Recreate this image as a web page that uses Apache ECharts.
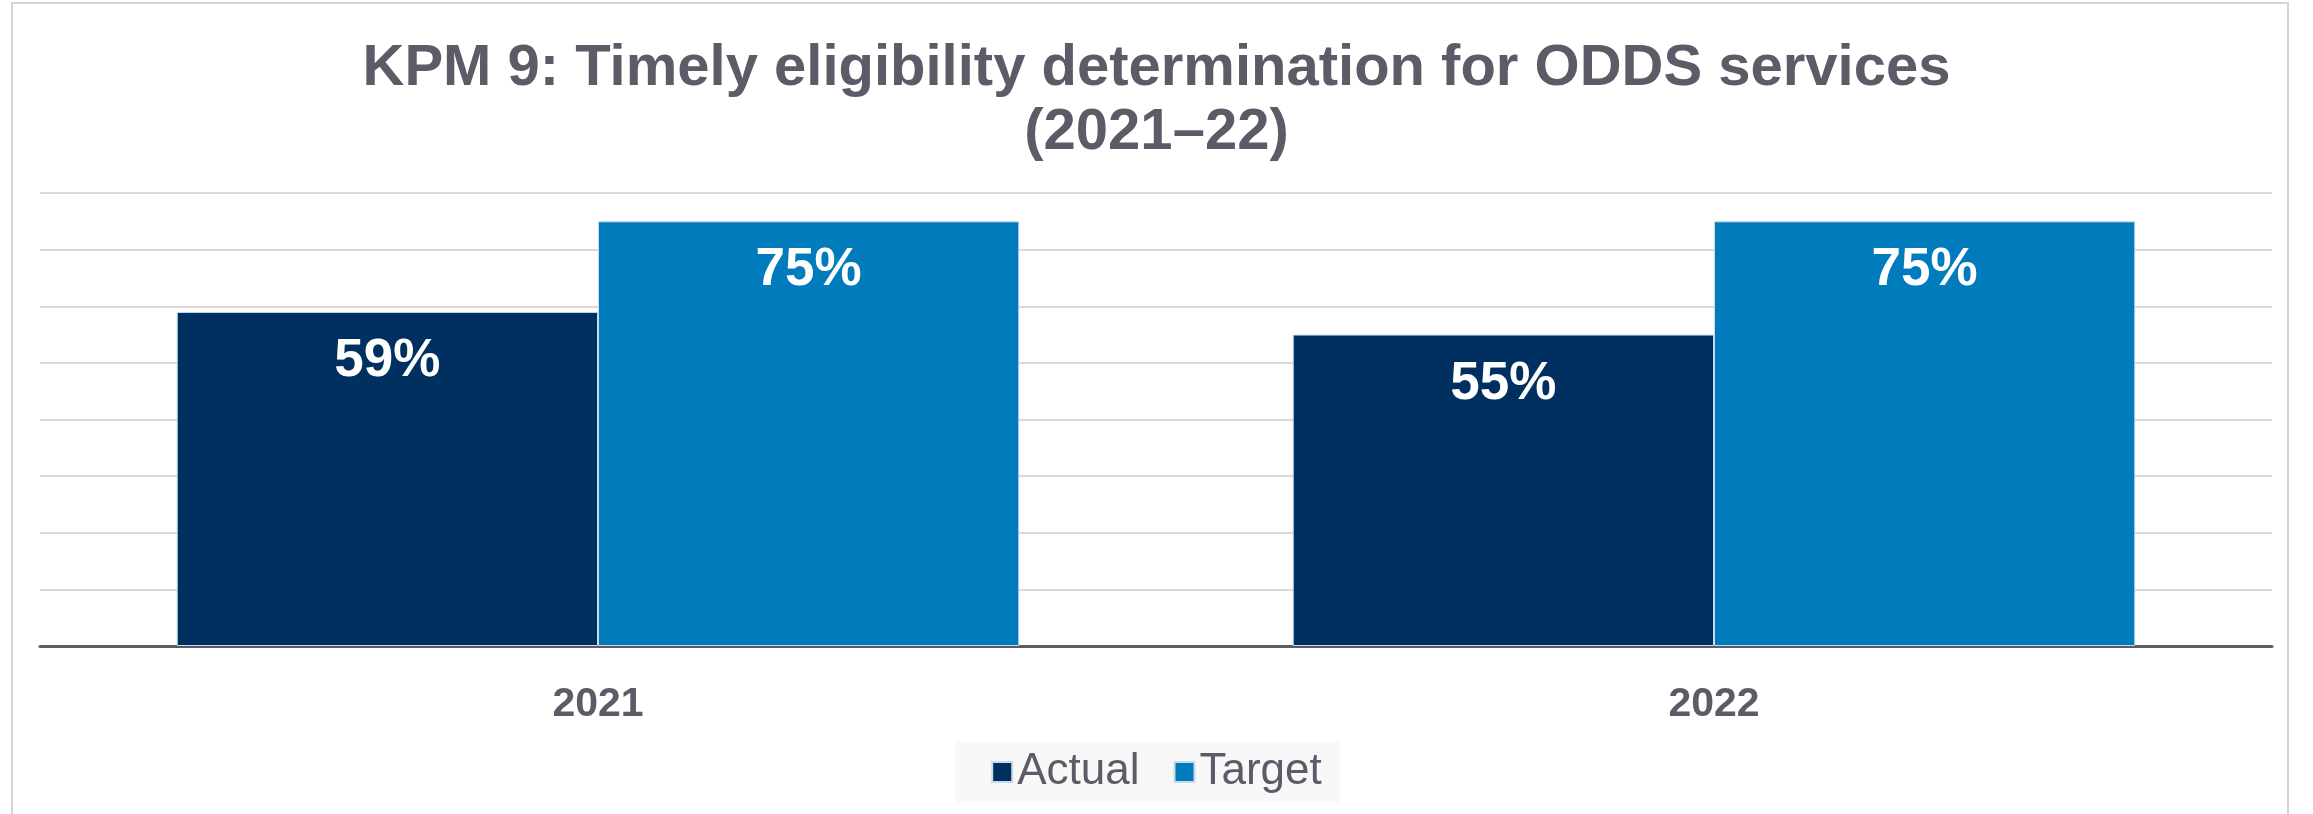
<!DOCTYPE html>
<html>
<head>
<meta charset="utf-8">
<script src="https://cdn.jsdelivr.net/npm/echarts@6/dist/echarts.min.js"></script>
<style>
  html, body { margin: 0; padding: 0; background: #ffffff; }
  #frame {
    position: absolute; left: 11px; top: 2px; width: 2278px; height: 830px;
    border: 2px solid #d4d3d8; box-sizing: border-box;
  }
  #chart { position: absolute; left: 0; top: 0; width: 2313px; height: 814px; }
</style>
</head>
<body>
<div id="frame"></div>
<div id="chart"></div>
<script>
// KPM 9 figures by year
const years = ['2021', '2022'];
const actual = [59, 55];
const target = [75, 75];
const seriesNames = ['Actual', 'Target'];
const yMax = 80;
const yStep = 10;

const textColor = '#5f5a67';
const fontFamily = '"Liberation Sans", Arial, Helvetica, sans-serif';

const chart = echarts.init(document.getElementById('chart'), null, { renderer: 'canvas' });

const valueLabel = {
  show: true,
  position: 'insideTop',
  distance: 23,
  formatter: p => p.value + '%',
  color: '#ffffff',
  fontFamily: fontFamily,
  fontWeight: 'bold',
  fontSize: 53
};

chart.setOption({
  backgroundColor: 'transparent',
  animation: false,
  title: {
    text: 'KPM 9: Timely eligibility determination for ODDS services\n(2021\u201322)',
    left: 'center',
    top: 32,
    textStyle: {
      color: textColor,
      fontFamily: fontFamily,
      fontWeight: 'bold',
      fontSize: 58,
      lineHeight: 64
    }
  },
  legend: {
    data: seriesNames,
    top: 742,
    left: 'center',
    backgroundColor: '#f8f8f9',
    padding: [8, 18, 8, 36],
    itemWidth: 20,
    itemHeight: 20,
    itemGap: 34,
    icon: 'rect',
    textStyle: {
      color: textColor,
      fontFamily: fontFamily,
      fontSize: 44,
      padding: [2, 0, 0, 0]
    }
  },
  grid: {
    left: 40,
    right: 41,
    top: 193,
    bottom: 168,
    containLabel: false
  },
  xAxis: {
    type: 'category',
    data: years,
    axisTick: { show: false },
    axisLine: { show: true, lineStyle: { color: '#5f5a67', width: 3 } },
    axisLabel: {
      color: textColor,
      fontFamily: fontFamily,
      fontWeight: 'bold',
      fontSize: 41,
      margin: 38
    }
  },
  yAxis: {
    type: 'value',
    min: 0,
    max: yMax,
    interval: yStep,
    axisLabel: { show: false },
    axisLine: { show: false },
    axisTick: { show: false },
    splitLine: { show: true, lineStyle: { color: '#d9d9d9', width: 2 } }
  },
  series: [
    {
      name: seriesNames[0],
      type: 'bar',
      data: actual,
      barGap: '0%',
      barCategoryGap: '24.5%',
      itemStyle: { color: '#003060', borderColor: '#c9dbe8', borderWidth: 1 },
      label: valueLabel
    },
    {
      name: seriesNames[1],
      type: 'bar',
      data: target,
      barGap: '0%',
      barCategoryGap: '24.5%',
      itemStyle: { color: '#007bbb', borderColor: '#c9dbe8', borderWidth: 1 },
      label: valueLabel
    }
  ]
});
</script>
</body>
</html>
